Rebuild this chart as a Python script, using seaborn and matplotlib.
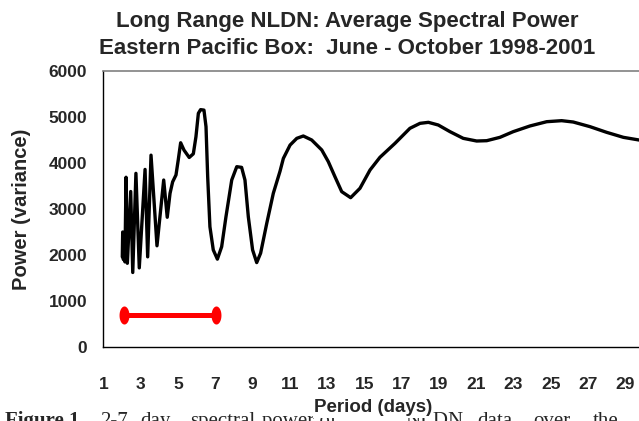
import matplotlib
matplotlib.use("Agg")
import matplotlib.pyplot as plt
import seaborn as sns
import numpy as np
import pandas as pd

# ---- data ----
period = [2.02, 2.04, 2.08, 2.12, 2.16, 2.22, 2.29, 2.47, 2.58, 2.75, 2.93, 3.24, 3.38, 3.56,
          3.88, 4.24, 4.43, 4.58, 4.72, 4.90, 5.02, 5.15, 5.33, 5.61, 5.83, 5.97, 6.10, 6.22,
          6.40, 6.51, 6.60, 6.72, 6.90, 7.12, 7.35, 7.58, 7.89, 8.16, 8.42, 8.60, 8.78, 9.01,
          9.23, 9.44, 9.77, 10.12, 10.48, 10.66, 11.02, 11.38, 11.73, 12.18, 12.72, 13.07,
          13.43, 13.79, 14.27, 14.77, 15.31, 15.84, 16.65, 17.45, 17.99, 18.44, 18.97, 19.60,
          20.31, 21.03, 21.57, 22.28, 22.99, 23.89, 24.79, 25.59, 26.21, 27.11, 28.00, 28.90,
          29.74]
power = [1960, 2500, 1900, 2450, 1850, 3690, 1820, 3380, 1620, 3775, 1720, 3860, 1960, 4170,
         2200, 3630, 2820, 3340, 3590, 3740, 4065, 4440, 4280, 4120, 4200, 4570, 5080, 5160,
         5150, 4790, 3700, 2615, 2110, 1910, 2180, 2830, 3630, 3920, 3905, 3630, 2830, 2110,
         1835, 2040, 2690, 3340, 3820, 4100, 4390, 4536, 4587, 4500, 4283, 4030, 3700, 3377,
         3246, 3450, 3848, 4123, 4428, 4754, 4862, 4884, 4826, 4681, 4536, 4478, 4485, 4558,
         4681, 4805, 4898, 4920, 4891, 4790, 4667, 4558, 4500]

band_period = [2.1, 7.05]
band_power = [700, 700]

xtick_vals = list(range(1, 30))
xtick_labels = [str(v) if v % 2 == 1 else "" for v in xtick_vals]
ytick_vals = [0, 1000, 2000, 3000, 4000, 5000, 6000]

title_lines = ["Long Range NLDN: Average Spectral Power",
               "Eastern Pacific Box:  June - October 1998-2001"]
x_label = "Period (days)"
y_label = "Power (variance)"
caption_words = [("Figure 1.", 5, "bold"), ("2-7", 100, "normal"), ("day", 140, "normal"),
                 ("spectral", 190, "normal"), ("power of", 262, "normal"),
                 ("NLDN", 405, "normal"), ("data", 477, "normal"), ("over", 533, "normal"),
                 ("the", 593, "normal")]

df = pd.DataFrame({"period": period, "power": power})
band = pd.DataFrame({"period": band_period, "power": band_power})

sns.set_theme(style="white")
plt.rcParams["font.family"] = ["Liberation Sans", "DejaVu Sans"]

W, H = 639, 421
fig = plt.figure(figsize=(W / 100, H / 100), dpi=100)
x0, x1, y0, y1 = 103.3, 639, 71, 347
ax = fig.add_axes([x0 / W, 1 - y1 / H, (x1 - x0) / W, (y1 - y0) / H])

sns.lineplot(data=df, x="period", y="power", ax=ax, color="black", lw=2.4,
             sort=False, estimator=None)

theta = np.linspace(0, 2 * np.pi, 40)
ell = list(zip(0.55 * np.cos(theta), np.sin(theta)))
sns.lineplot(data=band, x="period", y="power", ax=ax, color="#ff0000", lw=3.6,
             marker=ell, markersize=13, markeredgewidth=0, estimator=None)

ax.set_xlim(1, 1 + (x1 - x0) / 18.64)
ax.set_ylim(0, 6000)
ax.set_xticks(xtick_vals)
ax.set_xticklabels(xtick_labels)
ax.set_yticks(ytick_vals)
ax.tick_params(axis="x", direction="inout", length=7, width=0.9, color="black",
               labelsize=12.5, pad=18)
ax.tick_params(axis="y", direction="out", length=3.6, width=0.9, color="black",
               labelsize=12.5, pad=8)
for lab in ax.get_xticklabels() + ax.get_yticklabels():
    lab.set_fontweight("bold")

for s in ["left", "bottom"]:
    ax.spines[s].set_color("black")
    ax.spines[s].set_linewidth(1.0)
ax.spines["top"].set_color("#808080")
ax.spines["top"].set_linewidth(1.2)
ax.spines["right"].set_visible(False)

ax.set_xlabel("")
ax.set_ylabel("")

fig.text(347 / W, 1 - 21 / H, title_lines[0], ha="center", va="center",
         fontsize=16, fontweight="bold")
fig.text(347 / W, 1 - 49 / H, title_lines[1], ha="center", va="center",
         fontsize=16, fontweight="bold")
fig.text(22 / W, 1 - 209 / H, y_label, rotation=90, ha="center",
         va="center", fontsize=14.5, fontweight="bold")

# caption line (partially hidden behind the axis label, cut by the bottom edge)
cap_y = 1 - 426 / H
for word, xpos, weight in caption_words:
    fig.text(xpos / W, cap_y, word, family=["Liberation Serif", "DejaVu Serif"],
             fontweight=weight, fontsize=15, ha="left", va="baseline")

fig.text(373 / W, 1 - 408 / H, x_label, ha="center", va="center",
         fontsize=13.5, fontweight="bold",
         bbox=dict(facecolor="white", edgecolor="none", pad=1.0))

fig.savefig("out.png", dpi=100)
